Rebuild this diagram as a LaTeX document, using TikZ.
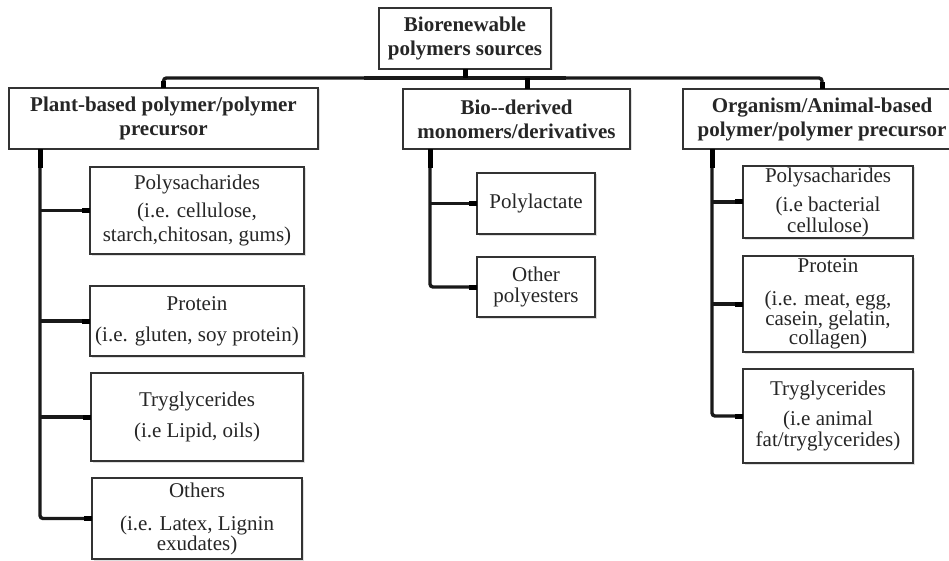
\documentclass[tikz,border=0pt]{standalone}
\usepackage{fontspec}
\setmainfont{Liberation Serif}
\usetikzlibrary{positioning,shadows,calc}

\begin{document}
\begin{tikzpicture}[
    x=1pt, y=-1pt,
    box/.style={draw=black!80, line width=1.4pt, fill=white, align=center, inner xsep=3pt, inner ysep=0pt, outer sep=0pt, text=black!85,
        drop shadow={opacity=0.25, shadow xshift=1.5pt, shadow yshift=-1.5pt}},
    head/.style={box, font=\fontsize{21}{24}\selectfont\bfseries},
    item/.style={box, font=\fontsize{21}{21}\selectfont},
    link/.style={line width=3.4pt, draw=black!90, rounded corners=3pt},
    stub/.style={line width=5pt, draw=black}
]
    \useasboundingbox (0,0) rectangle (949,561);

    \node[head, minimum width=172pt, minimum height=61pt] (top) at (465,38.5) {Biorenewable\\polymers sources};
    \node[head, minimum width=309pt, minimum height=61pt] (lp) at (163.5,118.5) {Plant-based polymer/polymer\\precursor};
    \node[head, minimum width=227pt, minimum height=60pt] (mp) at (516.5,119) {Bio-{}-derived\\monomers/derivatives};
    \node[head, minimum width=278pt, minimum height=60pt] (rp) at (822,119) {Organism/Animal-based\\polymer/polymer precursor};

    \node[item, minimum width=214pt, minimum height=87pt] (lc1) at (197,210.5) {Polysacharides\\[7pt](i.e. cellulose,\\[3pt]starch,chitosan, gums)};
    \node[item, minimum width=214pt, minimum height=70pt, below=32pt of lc1] (lc2) {Protein\\[10pt](i.e. gluten, soy protein)};
    \node[item, minimum width=212pt, minimum height=88pt, below=17pt of lc2] (lc3) {Tryglycerides\\[10pt](i.e Lipid, oils)};
    \node[item, minimum width=210pt, minimum height=81pt, below=17pt of lc3] (lc4) {Others\\[12pt](i.e. Latex, Lignin\\[-1pt]exudates)};

    \node[item, minimum width=118pt, minimum height=61pt] (mc1) at (536,203.5) {Polylactate};
    \node[item, minimum width=118pt, minimum height=60pt, below=23pt of mc1] (mc2) {Other\\polyesters};

    \node[item, minimum width=170pt, minimum height=72pt] (rc1) at (828,202) {Polysacharides\\[8pt](i.e bacterial\\cellulose)};
    \node[item, minimum width=170pt, minimum height=96pt, below=18pt of rc1] (rc2) {Protein\\[12pt](i.e. meat, egg,\\[-1pt]casein, gelatin,\\[-2pt]collagen)};
    \node[item, minimum width=170pt, minimum height=94pt, below=17pt of rc2] (rc3) {Tryglycerides\\[9pt](i.e animal\\fat/tryglycerides)};

    \coordinate (hub) at ([yshift=-9pt]top.south);
    \coordinate (mtop) at ([xshift=10.5pt]mp.north);
    \draw[link] (lp.north) |- (hub) -| (rp.north);
    \draw[link, line width=4.6pt] ([xshift=-101pt]hub) -- ([xshift=101pt]hub);
    \draw[stub] (top.south) -- (hub);
    \draw[stub] (mtop |- hub) -- (mtop);
    \draw[stub] ([yshift=7pt]lp.north) -- (lp.north);
    \draw[stub] ([yshift=7pt]rp.north) -- (rp.north);

    \coordinate (lt) at ([xshift=31pt]lp.south west);
    \coordinate (mt) at ([xshift=27pt]mp.south west);
    \coordinate (rt) at ([xshift=29pt]rp.south west);

    \draw[link] (lt) |- (lc4.west);
    \foreach \n in {lc1,lc2,lc3}
        \draw[link] (lt |- \n.west) -- (\n.west);
    \draw[link] (mt) |- (mc2.west);
    \draw[link] (mt |- mc1.west) -- (mc1.west);
    \draw[link] (rt) |- (rc3.west);
    \foreach \n in {rc1,rc2}
        \draw[link] (rt |- \n.west) -- (\n.west);

    \draw[stub] (lt) -- ++(0,19);
    \draw[stub] (mt) -- ++(0,19);
    \draw[stub] (rt) -- ++(0,19);
    \foreach \n in {lc1,lc2,lc3,lc4,mc1,mc2,rc1,rc2,rc3}
        \draw[stub] ([xshift=-8pt]\n.west) -- (\n.west);
\end{tikzpicture}
\end{document}
